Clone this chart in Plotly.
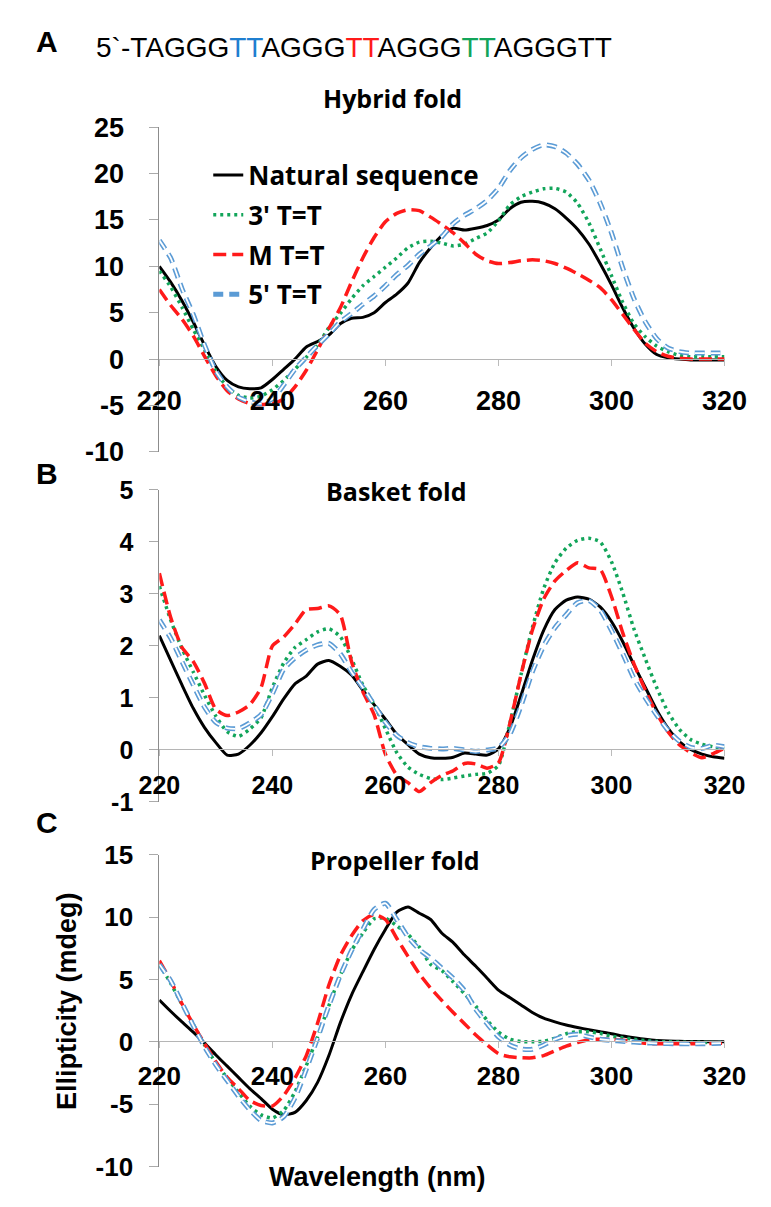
import plotly.graph_objects as go

wavelength = list(range(220, 322, 2))

# Panel A - Hybrid fold
hyb_natural = [10.0, 8.3, 6.3, 4.0, 1.5, -0.8, -2.3, -3.0, -3.2, -3.1, -2.2, -1.1, 0.0, 1.3, 1.9, 2.6, 3.8, 4.4, 4.5, 5.0,
               6.1, 7.0, 8.2, 10.4, 12.0, 13.3, 14.1, 13.9, 14.1, 14.4, 15.0, 16.2, 16.9, 17.0, 16.8, 16.2, 15.2, 14.0, 12.4, 10.3,
               8.0, 5.5, 3.3, 1.6, 0.5, 0.15, 0.0, -0.1, -0.1, -0.1, -0.1]
hyb_3p = [9.5, 7.8, 5.6, 3.2, 1.0, -1.3, -3.0, -3.9, -4.2, -4.0, -3.3, -2.3, -1.1, 0.2, 1.5, 3.4, 4.9, 6.5, 7.9, 8.9,
          9.9, 10.9, 12.0, 12.6, 12.7, 12.5, 12.2, 12.4, 13.0, 13.6, 14.9, 16.6, 17.5, 18.0, 18.35, 18.4, 18.0, 16.8, 14.7, 11.9,
          9.0, 6.1, 3.8, 2.4, 1.4, 0.8, 0.4, 0.25, 0.25, 0.25, 0.25]
hyb_m = [7.5, 5.8, 4.3, 2.5, 0.3, -1.8, -3.4, -4.3, -4.8, -4.9, -4.8, -4.3, -3.0, -1.2, 1.0, 3.3, 5.5, 8.3, 10.9, 13.1,
         14.8, 15.7, 16.1, 16.0, 15.3, 14.5, 13.6, 12.5, 11.3, 10.6, 10.3, 10.4, 10.6, 10.7, 10.6, 10.3, 9.8, 9.2, 8.5, 7.7,
         6.4, 4.8, 3.2, 1.7, 0.8, 0.3, 0.1, 0.0, 0.0, 0.0, 0.0]
hyb_5p = [12.8, 10.9, 7.6, 4.8, 1.5, -1.3, -3.0, -4.1, -4.6, -4.8, -4.3, -2.8, -1.1, 0.2, 1.5, 2.7, 4.0, 4.9, 5.9, 6.8,
          7.9, 9.1, 10.1, 11.3, 12.2, 13.2, 14.6, 15.5, 16.2, 17.1, 18.4, 20.3, 21.7, 22.6, 23.1, 22.9, 22.2, 21.0, 19.3, 16.8,
          13.6, 9.8, 6.5, 4.0, 2.2, 1.2, 0.8, 0.65, 0.65, 0.65, 0.65]

# Panel B - Basket fold
bas_natural = [2.2, 1.72, 1.25, 0.8, 0.43, 0.14, -0.1, -0.08, 0.09, 0.33, 0.64, 0.98, 1.27, 1.42, 1.65, 1.72, 1.61, 1.44, 1.15, 0.87,
               0.59, 0.3, 0.1, -0.08, -0.15, -0.16, -0.14, -0.06, -0.08, -0.1, 0.02, 0.42, 1.05, 1.72, 2.3, 2.7, 2.88, 2.94, 2.9, 2.75,
               2.47, 2.08, 1.63, 1.2, 0.77, 0.42, 0.16, 0.01, -0.08, -0.13, -0.16]
bas_3p = [3.15, 2.5, 1.95, 1.5, 1.05, 0.65, 0.35, 0.26, 0.4, 0.62, 1.2, 1.67, 1.97, 2.12, 2.27, 2.33, 2.18, 1.75, 1.25, 0.87,
          0.41, -0.05, -0.33, -0.47, -0.55, -0.57, -0.54, -0.5, -0.47, -0.45, -0.3, 0.5, 1.45, 2.35, 3.1, 3.6, 3.88, 4.03, 4.07, 4.0,
          3.62, 3.02, 2.32, 1.75, 1.2, 0.73, 0.4, 0.2, 0.11, 0.06, 0.03]
bas_m = [3.4, 2.55, 1.97, 1.7, 1.28, 0.78, 0.66, 0.73, 0.87, 1.2, 2.0, 2.17, 2.42, 2.7, 2.72, 2.77, 2.6, 1.7, 1.12, 0.68,
         -0.08, -0.48, -0.63, -0.8, -0.63, -0.49, -0.4, -0.26, -0.27, -0.35, -0.25, 0.5, 1.45, 2.3, 2.9, 3.25, 3.45, 3.6, 3.5, 3.47,
         2.95, 2.25, 1.65, 1.15, 0.7, 0.35, 0.1, -0.05, -0.15, -0.07, 0.03]
bas_5p = [2.5, 2.15, 1.7, 1.25, 0.82, 0.53, 0.42, 0.41, 0.52, 0.68, 1.08, 1.55, 1.77, 1.92, 2.02, 2.05, 1.85, 1.5, 1.2, 0.87,
          0.53, 0.28, 0.14, 0.06, 0.03, 0.02, 0.03, 0.0, -0.03, 0.0, 0.04, 0.3, 0.85, 1.5, 2.0, 2.35, 2.6, 2.83, 2.87, 2.69,
          2.3, 1.85, 1.37, 1.0, 0.67, 0.38, 0.17, 0.05, 0.03, 0.09, 0.06]

# Panel C - Propeller fold
pro_natural = [3.35, 2.45, 1.6, 0.78, -0.1, -1.05, -1.95, -2.85, -3.75, -4.55, -5.4, -5.85, -5.65, -4.7, -3.25, -1.1, 1.5, 3.75, 5.6, 7.4,
               9.0, 10.4, 10.8, 10.3, 9.8, 8.7, 7.95, 6.95, 6.05, 5.1, 4.15, 3.55, 2.95, 2.35, 1.9, 1.6, 1.35, 1.15, 0.97, 0.81,
               0.65, 0.46, 0.32, 0.2, 0.11, 0.06, 0.04, 0.03, 0.02, 0.01, 0.0]
pro_3p = [6.2, 4.7, 3.0, 1.4, -0.25, -1.7, -2.9, -4.05, -5.15, -5.85, -6.1, -5.5, -4.0, -1.9, 0.4, 2.9, 5.3, 7.3, 8.7, 9.85,
          9.9, 9.3, 8.6, 7.6, 6.2, 5.7, 4.8, 3.85, 2.85, 1.73, 0.78, 0.22, 0.02, 0.0, 0.05, 0.3, 0.65, 0.81, 0.8, 0.68,
          0.45, 0.32, 0.2, 0.1, 0.03, 0.0, -0.02, -0.03, -0.04, -0.05, -0.05]
pro_m = [6.5, 4.9, 3.05, 1.4, -0.15, -1.6, -2.85, -3.75, -4.7, -5.1, -5.15, -4.3, -2.9, -1.1, 1.5, 4.55, 6.9, 8.5, 9.7, 10.2,
         9.8, 8.3, 6.85, 5.45, 4.3, 3.3, 2.35, 1.45, 0.55, -0.25, -0.95, -1.2, -1.27, -1.28, -1.1, -0.72, -0.35, -0.05, 0.17, 0.21,
         0.21, 0.12, 0.02, -0.12, -0.16, -0.16, -0.16, -0.16, -0.16, -0.13, -0.1]
pro_5p = [6.2, 4.9, 3.1, 1.3, -0.4, -1.85, -3.1, -4.35, -5.45, -6.3, -6.5, -6.0, -4.5, -2.2, 0.3, 2.9, 5.3, 7.3, 9.0, 10.6,
          11.1, 9.8, 8.4, 7.4, 6.7, 5.9, 5.1, 4.1, 2.6, 1.45, 0.4, -0.25, -0.58, -0.6, -0.25, 0.2, 0.5, 0.6, 0.4, 0.21,
          0.12, 0.04, -0.02, -0.08, -0.12, -0.14, -0.15, -0.16, -0.15, -0.13, -0.1]

series_names = ["Natural sequence", "3' T=T", "M T=T", "5' T=T"]
x_ticks = [220, 240, 260, 280, 300, 320]
yA_ticks = [-10, -5, 0, 5, 10, 15, 20, 25]
yA_text = ["-10", "-5", "0", "5", "10", "15", "20", "25"]
yB_ticks = [-1, 0, 1, 2, 3, 4, 5]
yB_text = ["-1", "0", "1", "2", "3", "4", "5"]
yC_ticks = [-10, -5, 0, 5, 10, 15]
yC_text = ["-10", "-5", "0", "5", "10", "15"]
panel_titles = ["Hybrid fold", "Basket fold", "Propeller fold"]

W, H = 771, 1207
def py(px):
    return 1 - px / H

BLACK = "#000000"
GREEN = "#12a55a"
RED = "#ff1a1a"
BLUE = "#5b9bd5"

fig = go.Figure()
panels = [
    ("", [hyb_natural, hyb_3p, hyb_m, hyb_5p]),
    ("2", [bas_natural, bas_3p, bas_m, bas_5p]),
    ("3", [pro_natural, pro_3p, pro_m, pro_5p]),
]
for pi, (sfx, data) in enumerate(panels):
    xa = "x" + sfx
    ya = "y" + sfx
    show = pi == 0
    common = dict(x=wavelength, xaxis=xa, yaxis=ya, mode="lines", line_shape="spline",
                  hoverinfo="skip")
    fig.add_trace(go.Scatter(y=data[0], name=series_names[0], showlegend=show, legendgroup="n",
                             line=dict(color=BLACK, width=3, smoothing=0.6), **common))
    fig.add_trace(go.Scatter(y=data[1], name=series_names[1], showlegend=show, legendgroup="g",
                             line=dict(color=GREEN, width=3.5, dash="3px,4px", smoothing=0.6), **common))
    fig.add_trace(go.Scatter(y=data[2], name=series_names[2], showlegend=show, legendgroup="r",
                             line=dict(color=RED, width=3.5, dash="13px,6px", smoothing=0.6), **common))
    fig.add_trace(go.Scatter(y=data[3], name=series_names[3], showlegend=show, legendgroup="b",
                             line=dict(color=BLUE, width=5, dash="10px,6px", smoothing=0.6), **common))
    fig.add_trace(go.Scatter(y=data[3], showlegend=False, legendgroup="b",
                             line=dict(color="white", width=1.8, dash="10px,6px", smoothing=0.6), **common))

xdom = [145 / W, 746 / W]
tickfont = lambda s: dict(family="Liberation Sans, Arial", size=s, color="black", weight="bold")

specs = [
    # (suffix, ydomain px top,bottom, yrange, ticks, text, zero px, xstandoff, ystandoff, fontsize)
    ("", (115, 448), [-10, 25], yA_ticks, yA_text, 353, 11, 20, 27),
    ("2", (487, 807), [-1, 5], yB_ticks, yB_text, 753, 8, 11, 25),
    ("3", (861, 1181), [-10, 15], yC_ticks, yC_text, 1052, 6, 11, 26),
]
layout = {}
for sfx, (t, b), yr, tv, tt, zpx, xso, yso, fs in specs:
    layout["xaxis" + sfx] = dict(
        domain=xdom, range=[220, 320], anchor="free", position=py(zpx),
        tickvals=x_ticks, ticks="outside", ticklen=6, tickcolor="#bbbbbb",
        showline=True, linecolor="#b5b5b5", linewidth=1, showgrid=False, zeroline=False,
        tickfont=tickfont(fs), ticklabelstandoff=xso,
    )
    layout["yaxis" + sfx] = dict(
        domain=[py(b), py(t)], range=yr, anchor="x" + sfx,
        tickvals=tv, ticktext=tt, ticks="outside", ticklen=9, tickcolor="#aaaaaa",
        showline=True, linecolor="#8c8c8c", linewidth=1, showgrid=False, zeroline=False,
        tickfont=tickfont(fs), ticklabelstandoff=yso,
    )

title_font = dict(family="Open Sans", size=25, color="black", weight="bold")
ann = []
for title, (cx, cy) in zip(panel_titles, [(393, 85), (397, 488), (396, 867)]):
    ann.append(dict(text=title, x=cx / W, y=py(cy), xref="paper", yref="paper", showarrow=False,
                    xanchor="center", yanchor="middle", font=title_font))
for letter, (cx, cy) in zip(["A", "B", "C"], [(25, 27), (25, 470), (25, 828)]):
    ann.append(dict(text=letter, x=cx / W, y=py(cy), xref="paper", yref="paper", showarrow=False,
                    xanchor="center", yanchor="middle",
                    font=dict(family="Liberation Sans, Arial", size=30, color="black", weight="bold")))
seq = ("5`-TAGGG<span style='color:#1f7fd0'>TT</span>AGGG<span style='color:#ff1a1a'>TT</span>"
       "AGGG<span style='color:#12a55a'>TT</span>AGGGTT")
ann.append(dict(text=seq, x=352 / W, y=py(33), xref="paper", yref="paper", showarrow=False,
                xanchor="center", yanchor="middle",
                font=dict(family="Liberation Sans, Arial", size=28, color="black")))
ann.append(dict(text="Ellipticity (mdeg)", x=47 / W, y=py(1011), xref="paper", yref="paper", showarrow=False,
                textangle=-90, xanchor="center", yanchor="middle",
                font=dict(family="Liberation Sans, Arial", size=27, color="black", weight="bold")))
ann.append(dict(text="Wavelength (nm)", x=377 / W, y=py(1192), xref="paper", yref="paper", showarrow=False,
                xanchor="center", yanchor="middle",
                font=dict(family="Liberation Sans, Arial", size=27, color="black", weight="bold")))

fig.update_layout(
    width=W, height=H, margin=dict(l=0, r=0, t=0, b=0),
    paper_bgcolor="white", plot_bgcolor="white",
    annotations=ann,
    legend=dict(x=197 / W, y=py(140), xanchor="left", yanchor="top", bgcolor="rgba(0,0,0,0)",
                font=dict(family="Open Sans", size=26, color="black", weight="bold"),
                tracegroupgap=3),
    **layout,
)
fig.write_html("out.html", config={"displayModeBar": False},
               post_script="document.body.style.margin='0';document.body.style.overflow='hidden';")
